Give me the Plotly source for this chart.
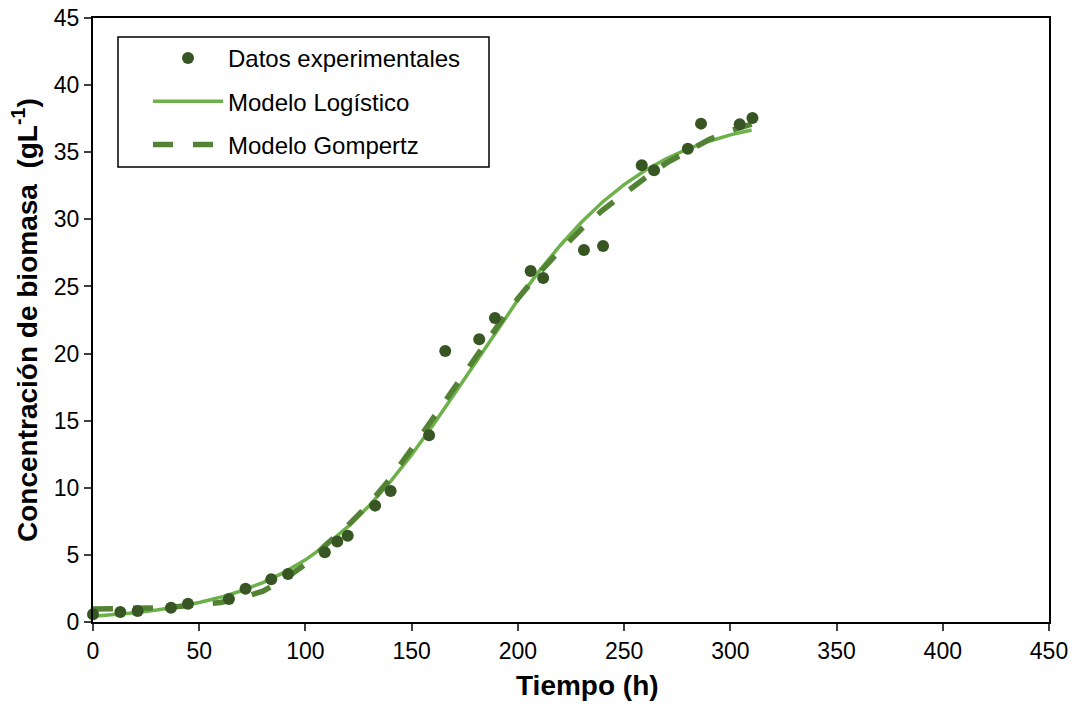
import plotly.graph_objects as go

# Experimental data
t_exp = [0, 12.85, 21.0, 36.7, 44.7, 64.0, 71.8, 83.9, 91.8, 109.1, 115.0, 119.9,
         132.8, 140.1, 158.2, 165.8, 181.8, 189.2, 206.0, 211.9, 231.1, 240.1,
         258.3, 264.1, 280.0, 286.2, 304.4, 310.4]
x_exp = [0.57, 0.75, 0.82, 1.07, 1.36, 1.71, 2.48, 3.18, 3.58, 5.19, 6.00, 6.43,
         8.67, 9.76, 13.91, 20.19, 21.06, 22.65, 26.15, 25.63, 27.72, 28.01,
         34.03, 33.65, 35.26, 37.13, 37.08, 37.55]

# Model curves
t_model = [0, 10, 20, 30, 40, 50, 60, 70, 80, 90, 100, 110, 120, 130, 140, 150,
           160, 170, 180, 190, 200, 210, 220, 230, 240, 250, 260, 270, 280, 290,
           300, 310]
x_logistic = [0.42, 0.54, 0.69, 0.89, 1.13, 1.45, 1.84, 2.33, 2.94, 3.70, 4.63,
              5.76, 7.10, 8.66, 10.46, 12.46, 14.65, 16.97, 19.34, 21.72, 24.00,
              26.14, 28.07, 29.80, 31.31, 32.59, 33.65, 34.53, 35.25, 35.82,
              36.29, 36.65]
x_gompertz = [0.97, 0.98, 1.00, 1.05, 1.15, 1.28, 1.45, 1.80, 2.30, 3.20, 4.30,
              5.80, 7.20, 8.80, 10.70, 12.90, 15.20, 17.50, 19.80, 21.95, 24.10,
              26.00, 27.70, 29.30, 30.70, 31.95, 33.10, 34.20, 35.10, 35.95,
              36.60, 37.10]

FONT = "Liberation Sans, Arial, sans-serif"

fig = go.Figure()
fig.add_trace(go.Scatter(
    x=t_model, y=x_logistic, mode="lines", name="Modelo Logístico",
    line=dict(color="#6DB14A", width=3.5), legendrank=2, legendgroup="b",
    cliponaxis=False))
fig.add_trace(go.Scatter(
    x=t_model, y=x_gompertz, mode="lines", name="Modelo Gompertz",
    line=dict(color="#548235", width=5.5, dash="20px,20px"), legendrank=3,
    legendgroup="c", cliponaxis=False))
fig.add_trace(go.Scatter(
    x=t_exp, y=x_exp, mode="markers", name="Datos experimentales",
    marker=dict(color="#375623", size=12, line=dict(width=0)), legendrank=1,
    legendgroup="a", cliponaxis=False))

fig.update_layout(
    width=1079, height=707,
    margin=dict(l=93, r=30, t=18, b=85, autoexpand=False),
    paper_bgcolor="white", plot_bgcolor="white",
    font=dict(family=FONT, size=23, color="black"),
    showlegend=True,
    legend=dict(
        x=(148 - 93) / 956, y=(622 - 36) / 604, xanchor="left", yanchor="top",
        bgcolor="rgba(0,0,0,0)", borderwidth=0,
        font=dict(family=FONT, size=24, color="black"),
        itemwidth=70, tracegroupgap=9, traceorder="grouped",
    ),
    xaxis=dict(
        range=[0, 450], dtick=50, tick0=0, showgrid=False, zeroline=False,
        showline=True, linecolor="black", linewidth=2, mirror=True,
        ticks="outside", ticklen=7, tickwidth=1.5, tickcolor="#404040",
        tickfont=dict(family=FONT, size=23, color="black"), automargin=False,
    ),
    yaxis=dict(
        range=[0, 45], dtick=5, tick0=0, showgrid=False, zeroline=False,
        showline=True, linecolor="black", linewidth=2, mirror=True,
        ticks="outside", ticklen=7, tickwidth=1.5, tickcolor="#404040",
        tickfont=dict(family=FONT, size=23, color="black"), automargin=False,
    ),
    shapes=[dict(
        type="rect", xref="paper", yref="paper",
        x0=(118 - 93) / 956, x1=(489 - 93) / 956,
        y0=(622 - 167) / 604, y1=(622 - 37) / 604,
        line=dict(color="black", width=1.5), fillcolor="rgba(0,0,0,0)",
    )],
    annotations=[
        dict(text="<b>Tiempo (h)</b>", xref="paper", yref="paper",
             x=(587 - 93) / 956, y=(622 - 685) / 604, xanchor="center",
             yanchor="middle", showarrow=False,
             font=dict(family=FONT, size=28, color="black")),
        dict(text="<b>Concentración de biomasa\u00a0 (gL<sup>-1</sup>)</b>",
             xref="paper", yref="paper",
             x=(25 - 93) / 956, y=0.5, xanchor="center", yanchor="middle",
             textangle=-90, showarrow=False,
             font=dict(family=FONT, size=28, color="black")),
    ],
)

fig.write_html("out.html")
